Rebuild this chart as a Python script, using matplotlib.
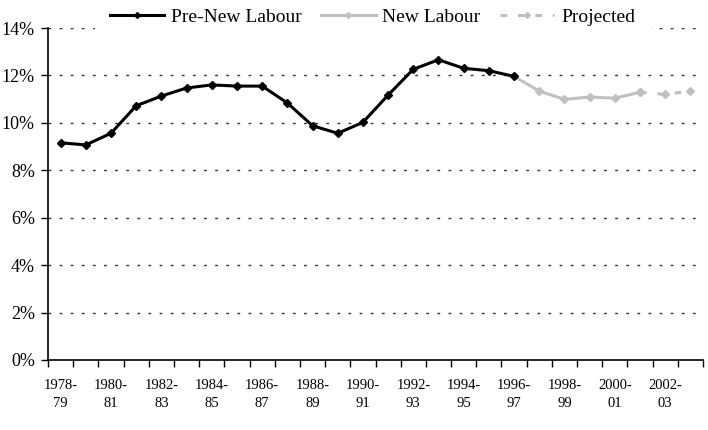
import matplotlib
matplotlib.use("Agg")
import matplotlib.pyplot as plt
import numpy as np

years = ["1978-79", "1979-80", "1980-81", "1981-82", "1982-83", "1983-84", "1984-85",
         "1985-86", "1986-87", "1987-88", "1988-89", "1989-90", "1990-91", "1991-92",
         "1992-93", "1993-94", "1994-95", "1995-96", "1996-97", "1997-98", "1998-99",
         "1999-00", "2000-01", "2001-02", "2002-03", "2003-04"]

pre_new_labour = [9.16, 9.07, 9.56, 10.72, 11.13, 11.47, 11.60, 11.55, 11.55, 10.84,
                  9.88, 9.56, 10.02, 11.17, 12.26, 12.66, 12.30, 12.20, 11.96]
new_labour = [11.96, 11.34, 10.99, 11.09, 11.04, 11.29]
projected = [11.29, 11.20, 11.34]

tick_labels = ["1978-\n79", "1980-\n81", "1982-\n83", "1984-\n85", "1986-\n87", "1988-\n89",
               "1990-\n91", "1992-\n93", "1994-\n95", "1996-\n97", "1998-\n99", "2000-\n01",
               "2002-\n03"]

plt.rcParams['font.family'] = ['Liberation Serif', 'DejaVu Serif']

fig = plt.figure(figsize=(7.08, 4.30), dpi=100)
ax = fig.add_axes([48/708, 1-360/430, 655/708, 332/430])

x_all = np.arange(len(years))
x_pre = x_all[:len(pre_new_labour)]
x_new = x_all[len(pre_new_labour)-1:len(pre_new_labour)-1+len(new_labour)]
x_proj = x_all[len(x_all)-len(projected):]

grey = "#c0c0c0"
ax.plot(x_pre, pre_new_labour, color="black", lw=2.2, marker="D", ms=4,
        label="Pre-New Labour", zorder=4)
ax.plot(x_new, new_labour, color=grey, lw=2.2, marker="D", ms=4,
        label="New Labour", zorder=3)
ax.plot(x_proj, projected, color=grey, lw=2.2, ls=(0, (2.2, 3.5)), marker="D", ms=4,
        label="Projected", zorder=3)

ax.set_xlim(-0.5, len(years) - 0.5)
ax.set_ylim(0, 14)
yt = np.arange(0, 15, 2)
ax.set_yticks(yt)
ax.set_yticklabels([f"{v}%" for v in yt], fontsize=13)
for v in yt[1:]:
    ax.axhline(v, color="#333333", lw=1.0, ls=(0, (2, 6)), zorder=1)

ax.set_xticks(x_all[::2])
ax.set_xticklabels(tick_labels, fontsize=10.5, linespacing=1.45)
ax.set_xticks(np.arange(-0.5, len(years), 1), minor=True)
ax.tick_params(axis="x", which="major", length=0, pad=14)
ax.tick_params(axis="x", which="minor", length=5, direction="out", width=1)
ax.tick_params(axis="y", length=5, direction="out", width=1, pad=4.5)

for s in ["top", "right"]:
    ax.spines[s].set_visible(False)
for s in ["left", "bottom"]:
    ax.spines[s].set_linewidth(1.2)
    ax.spines[s].set_color("black")

leg = fig.legend(loc="center", bbox_to_anchor=(0.526, 1-17/430), ncol=3, fontsize=14,
                 frameon=True, facecolor="white", edgecolor="white", framealpha=1,
                 handlelength=2.8, handletextpad=0.35, columnspacing=1.0,
                 borderpad=0.75, fancybox=False)
for h in leg.legend_handles:
    h.set_markersize(3)

fig.savefig("out.png", dpi=100)
